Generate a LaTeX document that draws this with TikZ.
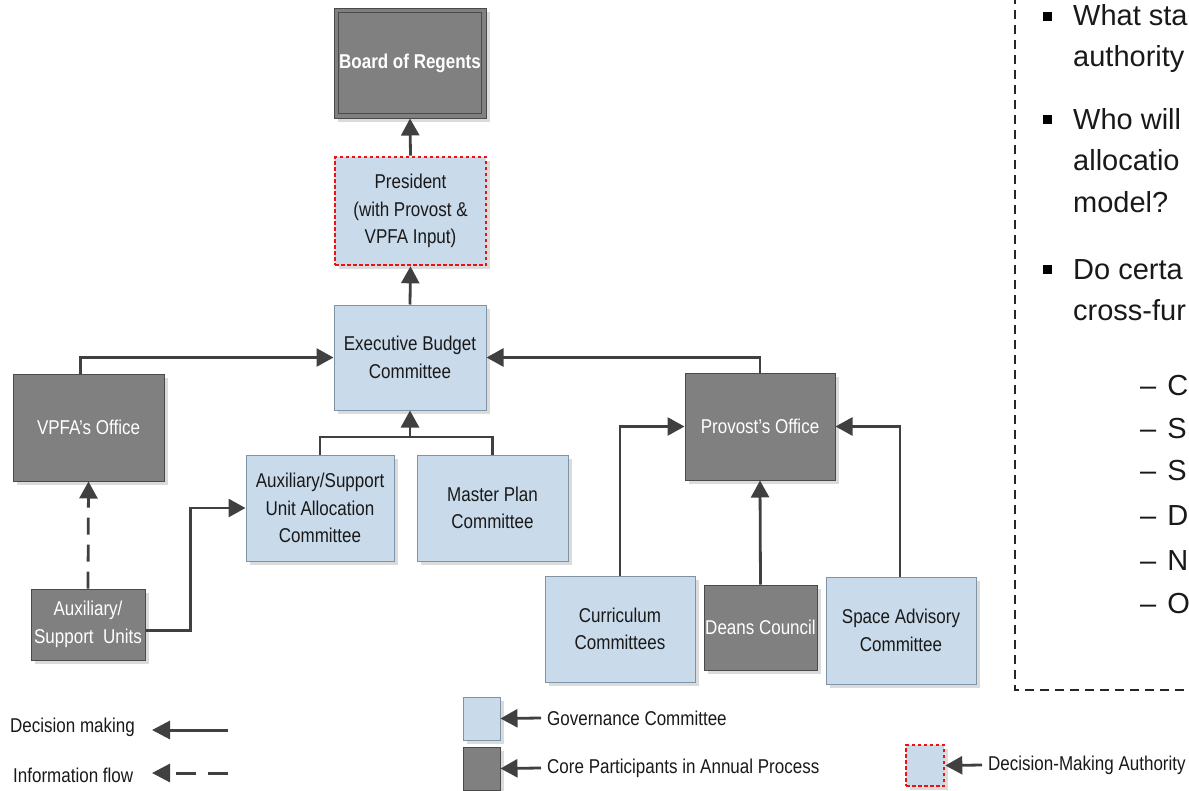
\documentclass[tikz,border=0pt]{standalone}
\usepackage{fontspec}
\setmainfont{Liberation Sans}
\newfontfamily\narrowfont[FakeStretch=0.85]{Liberation Sans}
\usetikzlibrary{arrows.meta,shadows}
\definecolor{coregray}{HTML}{808080}
\definecolor{coreedge}{HTML}{4A4A4A}
\definecolor{govblue}{HTML}{C9DAEA}
\definecolor{govedge}{HTML}{7F93A6}
\definecolor{lineg}{HTML}{404040}
\definecolor{authred}{HTML}{F01010}
\tikzset{
  box/.style={line width=1pt, align=center, inner sep=0pt,
    font=\narrowfont\fontsize{20}{27.5}\selectfont,
    drop shadow={shadow xshift=4pt, shadow yshift=-4pt, fill=black!14, opacity=1}},
  gov/.style={box, fill=govblue, draw=govedge, text=black!90},
  core/.style={box, fill=coregray, draw=coreedge, text=white},
  auth/.style={draw=authred, line width=2.6pt, dash pattern=on 3.5pt off 2.5pt},
  conn/.style={draw=lineg, line width=2.8pt, -{Triangle[length=17pt,width=18pt]}},
  plainline/.style={draw=lineg, line width=2.8pt},
  info/.style={conn, dash pattern=on 17pt off 10pt},
  legtext/.style={font=\narrowfont\fontsize{20}{24}\selectfont, inner sep=2pt, anchor=west, text=black!90},
  qtext/.style={font=\fontsize{29}{34}\selectfont, inner sep=0pt, anchor=base west, text=black!90},
  bulletsq/.style={fill=black, minimum size=9pt, inner sep=0pt},
}
\begin{document}
\begin{tikzpicture}[x=1pt,y=-1pt]
\useasboundingbox (0,0) rectangle (1189,790);

% main nodes
\node[core, minimum width=152pt, minimum height=110pt, font=\narrowfont\bfseries\fontsize{20}{24}\selectfont] (board) at (410,63) {Board of Regents};
\draw[coreedge, line width=1pt] ([shift={(5,5)}]board.north west) rectangle ([shift={(-5,-5)}]board.south east);
\node[gov, auth, minimum width=151pt, minimum height=108pt] (pres) at (410.5,211) {President\\(with Provost \&\\VPFA Input)};
\node[gov, minimum width=152pt, minimum height=105pt] (ebc) at (410,357.5) {Executive Budget\\Committee};
\node[core, minimum width=151pt, minimum height=107pt] (vpfa) at (88.5,427.5) {VPFA’s Office};
\node[gov, minimum width=148pt, minimum height=106pt] (aux) at (320,508) {Auxiliary/Support\\Unit Allocation\\Committee};
\node[gov, minimum width=151pt, minimum height=106pt] (mp) at (492.5,508) {Master Plan\\Committee};
\node[core, minimum width=150pt, minimum height=107pt] (prov) at (760,426.5) {Provost’s Office};
\node[core, minimum width=114pt, minimum height=71pt] (au) at (88,624.5) {Auxiliary/\\Support\ \ Units};
\node[gov, minimum width=150pt, minimum height=106pt] (cur) at (620,629) {Curriculum\\Committees};
\node[core, minimum width=113pt, minimum height=85pt] (deans) at (760.5,627.5) {Deans Council};
\node[gov, minimum width=150pt, minimum height=107pt] (space) at (901,630.5) {Space Advisory\\Committee};

% connectors
\draw[conn] (pres.north) -- (board.south);
\draw[conn] (ebc.north) -- (pres.south);
\draw[conn] ([xshift=-8pt]vpfa.north) |- (ebc.west);
\draw[conn] (prov.north) |- (ebc.east);
\coordinate (jn) at (410,437);
\draw[plainline] (aux.north) |- (jn) -| (mp.north);
\draw[conn] (jn) -- (ebc.south);
\draw[info] (au.north) -- (vpfa.south);
\draw[conn] ([yshift=-6pt]au.east) -- ++(45,0) |- (aux.west);
\draw[conn] (cur.north) |- (prov.west);
\draw[conn] (deans.north) -- (prov.south);
\draw[conn] ([xshift=-1pt]space.north) |- (prov.east);

% dashed question box
\coordinate (qtop) at (1015,-5);
\coordinate (qcorner) at (1015,690);
\coordinate (qright) at (1195,690);
\draw[black!85, line width=1.6pt, dash pattern=on 9pt off 6pt] (qtop) -- (qcorner) -- (qright);

\begin{scope}
\clip (0,0) rectangle (1189,790);
\node[bulletsq] (b1) at (1047,16) {};
\node[bulletsq] (b2) at (1047,119) {};
\node[bulletsq] (b3) at (1047,269) {};
\node[qtext] (q1) at (1073,25) {What sta};
\node[qtext] (q2) at (1073,66) {authority};
\node[qtext] (q3) at (1073,129) {Who will};
\node[qtext] (q4) at (1073,170) {allocatio};
\node[qtext] (q5) at (1073,212) {model?};
\node[qtext] (q6) at (1073,279) {Do certa};
\node[qtext] (q7) at (1073,320) {cross-fur};
\node[qtext] (d1) at (1140,395) {–\hspace{11pt}C};
\node[qtext] (d2) at (1140,438) {–\hspace{11pt}S};
\node[qtext] (d3) at (1140,480) {–\hspace{11pt}S};
\node[qtext] (d4) at (1140,525) {–\hspace{11pt}D};
\node[qtext] (d5) at (1140,570) {–\hspace{11pt}N};
\node[qtext] (d6) at (1140,613) {–\hspace{11pt}O};

% legend
\node[legtext] (dmt) at (8,727) {Decision making};
\coordinate (dmE) at (228,730);
\coordinate (dmW) at (152,730);
\draw[conn, line width=3pt, -{Triangle[length=18pt,width=18pt]}] (dmE) -- (dmW);
\node[legtext] (ift) at (11,775) {Information flow};
\coordinate (ifE) at (228,773);
\coordinate (ifW) at (152,773);
\draw[conn, line width=3pt, dash pattern=on 20pt off 12pt, -{Triangle[length=18pt,width=18pt]}] (ifE) -- (ifW);

\node[gov, minimum width=37pt, minimum height=43pt] (lg1) at (481.5,718.5) {};
\node[legtext, inner xsep=6pt] (lg1t) at (541,718) {Governance Committee};
\draw[conn] (lg1t.west) -- (lg1.east);
\node[core, minimum width=37pt, minimum height=43pt] (lg2) at (481.5,768.5) {};
\node[legtext, inner xsep=6pt] (lg2t) at (541,768) {Core Participants in Annual Process};
\draw[conn] (lg2t.west) -- (lg2.east);
\node[gov, auth, minimum width=38pt, minimum height=41pt] (lg3) at (925,765.5) {};
\node[legtext, inner xsep=6pt] (lg3t) at (982,765) {Decision-Making Authority};
\draw[conn] (lg3t.west) -- (lg3.east);
\end{scope}
\end{tikzpicture}
\end{document}
